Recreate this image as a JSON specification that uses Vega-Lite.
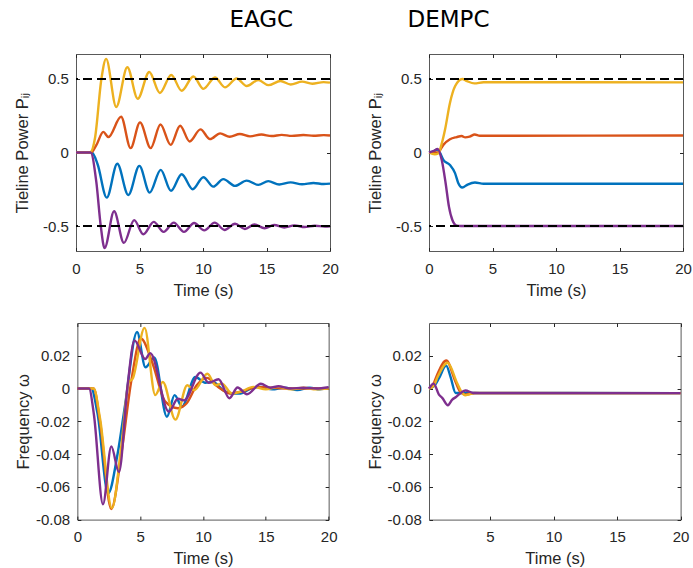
{
"$schema": "https://vega.github.io/schema/vega-lite/v6.json",
"padding": {"left": 13, "top": 8, "right": 5, "bottom": 5},
"config": {
 "font": "Liberation Sans",
 "view": {"stroke": "#595959", "strokeWidth": 1},
 "line": {"strokeWidth": 2.4, "interpolate": "monotone"},
 "axis": {"domain": false, "grid": false, "tickSize": -3.5, "tickColor": "#262626", "tickWidth": 1, "labelFont": "Liberation Sans", "labelFontSize": 15, "labelColor": "#262626", "labelFlush": false, "labelOverlap": false, "titleFont": "Liberation Sans, DejaVu Sans", "titleFontSize": 16.5, "titleFontWeight": "normal", "titleColor": "#262626"},
 "axisX": {"labelPadding": 25.8, "labelBaseline": "alphabetic", "titleY": 44, "titleBaseline": "alphabetic"},
 "axisY": {"labelPadding": 11.2, "titleBaseline": "alphabetic"},
 "axisTop": {"labelPadding": 0},
 "axisRight": {"labelPadding": 0}
},
"datasets": {
 "lv": [{"v": 0.5}, {"v": -0.5}],
 "d": [
{"p":"TL","s":"B","t":0,"v":0},{"p":"TL","s":"B","t":1.25,"v":0},{"p":"TL","s":"B","t":1.7,"v":-0.08},{"p":"TL","s":"B","t":2.42,"v":-0.307},{"p":"TL","s":"B","t":3.25,"v":-0.077},{"p":"TL","s":"B","t":4.12,"v":-0.289},{"p":"TL","s":"B","t":4.99,"v":-0.091},{"p":"TL","s":"B","t":5.8,"v":-0.273},{"p":"TL","s":"B","t":6.67,"v":-0.118},{"p":"TL","s":"B","t":7.48,"v":-0.261},{"p":"TL","s":"B","t":8.32,"v":-0.148},{"p":"TL","s":"B","t":9.19,"v":-0.25},{"p":"TL","s":"B","t":10.03,"v":-0.168},{"p":"TL","s":"B","t":10.81,"v":-0.232},{"p":"TL","s":"B","t":11.6,"v":-0.181},{"p":"TL","s":"B","t":12.52,"v":-0.227},{"p":"TL","s":"B","t":13.44,"v":-0.191},{"p":"TL","s":"B","t":14.36,"v":-0.22},{"p":"TL","s":"B","t":15.14,"v":-0.195},{"p":"TL","s":"B","t":16.0,"v":-0.218},{"p":"TL","s":"B","t":16.9,"v":-0.203},{"p":"TL","s":"B","t":17.8,"v":-0.216},{"p":"TL","s":"B","t":18.7,"v":-0.207},{"p":"TL","s":"B","t":19.5,"v":-0.214},{"p":"TL","s":"B","t":20,"v":-0.212},
{"p":"TL","s":"O","t":0,"v":0},{"p":"TL","s":"O","t":1.2,"v":0},{"p":"TL","s":"O","t":1.6,"v":0.05},{"p":"TL","s":"O","t":2.15,"v":0.14},{"p":"TL","s":"O","t":2.55,"v":0.105},{"p":"TL","s":"O","t":3.55,"v":0.243},{"p":"TL","s":"O","t":4.3,"v":0.03},{"p":"TL","s":"O","t":5.04,"v":0.205},{"p":"TL","s":"O","t":5.88,"v":0.03},{"p":"TL","s":"O","t":6.65,"v":0.19},{"p":"TL","s":"O","t":7.45,"v":0.052},{"p":"TL","s":"O","t":8.2,"v":0.182},{"p":"TL","s":"O","t":8.95,"v":0.075},{"p":"TL","s":"O","t":9.8,"v":0.157},{"p":"TL","s":"O","t":10.55,"v":0.091},{"p":"TL","s":"O","t":11.35,"v":0.13},{"p":"TL","s":"O","t":12.1,"v":0.107},{"p":"TL","s":"O","t":12.9,"v":0.126},{"p":"TL","s":"O","t":13.7,"v":0.11},{"p":"TL","s":"O","t":14.6,"v":0.122},{"p":"TL","s":"O","t":15.4,"v":0.112},{"p":"TL","s":"O","t":16.2,"v":0.12},{"p":"TL","s":"O","t":17.0,"v":0.113},{"p":"TL","s":"O","t":17.9,"v":0.119},{"p":"TL","s":"O","t":18.7,"v":0.114},{"p":"TL","s":"O","t":19.5,"v":0.118},{"p":"TL","s":"O","t":20,"v":0.116},
{"p":"TL","s":"Y","t":0,"v":0},{"p":"TL","s":"Y","t":1.1,"v":0},{"p":"TL","s":"Y","t":1.5,"v":0.1},{"p":"TL","s":"Y","t":2.0,"v":0.5},{"p":"TL","s":"Y","t":2.37,"v":0.637},{"p":"TL","s":"Y","t":3.17,"v":0.31},{"p":"TL","s":"Y","t":4.04,"v":0.58},{"p":"TL","s":"Y","t":4.86,"v":0.366},{"p":"TL","s":"Y","t":5.77,"v":0.548},{"p":"TL","s":"Y","t":6.6,"v":0.405},{"p":"TL","s":"Y","t":7.5,"v":0.527},{"p":"TL","s":"Y","t":8.32,"v":0.42},{"p":"TL","s":"Y","t":9.24,"v":0.517},{"p":"TL","s":"Y","t":10.03,"v":0.433},{"p":"TL","s":"Y","t":10.94,"v":0.51},{"p":"TL","s":"Y","t":11.73,"v":0.443},{"p":"TL","s":"Y","t":12.65,"v":0.503},{"p":"TL","s":"Y","t":13.44,"v":0.452},{"p":"TL","s":"Y","t":14.35,"v":0.493},{"p":"TL","s":"Y","t":15.15,"v":0.458},{"p":"TL","s":"Y","t":16.1,"v":0.486},{"p":"TL","s":"Y","t":16.9,"v":0.463},{"p":"TL","s":"Y","t":17.8,"v":0.482},{"p":"TL","s":"Y","t":18.6,"v":0.468},{"p":"TL","s":"Y","t":19.5,"v":0.479},{"p":"TL","s":"Y","t":20,"v":0.475},
{"p":"TL","s":"P","t":0,"v":0},{"p":"TL","s":"P","t":1.15,"v":0},{"p":"TL","s":"P","t":1.6,"v":-0.2},{"p":"TL","s":"P","t":1.95,"v":-0.5},{"p":"TL","s":"P","t":2.25,"v":-0.65},{"p":"TL","s":"P","t":3.0,"v":-0.4},{"p":"TL","s":"P","t":3.77,"v":-0.615},{"p":"TL","s":"P","t":4.58,"v":-0.46},{"p":"TL","s":"P","t":5.3,"v":-0.556},{"p":"TL","s":"P","t":6.12,"v":-0.472},{"p":"TL","s":"P","t":6.9,"v":-0.54},{"p":"TL","s":"P","t":7.7,"v":-0.477},{"p":"TL","s":"P","t":8.5,"v":-0.54},{"p":"TL","s":"P","t":9.3,"v":-0.48},{"p":"TL","s":"P","t":10.1,"v":-0.53},{"p":"TL","s":"P","t":10.92,"v":-0.477},{"p":"TL","s":"P","t":11.7,"v":-0.527},{"p":"TL","s":"P","t":12.52,"v":-0.485},{"p":"TL","s":"P","t":13.3,"v":-0.52},{"p":"TL","s":"P","t":14.05,"v":-0.49},{"p":"TL","s":"P","t":14.85,"v":-0.515},{"p":"TL","s":"P","t":15.6,"v":-0.493},{"p":"TL","s":"P","t":16.4,"v":-0.51},{"p":"TL","s":"P","t":17.2,"v":-0.496},{"p":"TL","s":"P","t":18.0,"v":-0.507},{"p":"TL","s":"P","t":18.8,"v":-0.498},{"p":"TL","s":"P","t":19.6,"v":-0.504},{"p":"TL","s":"P","t":20,"v":-0.502},
{"p":"TR","s":"B","t":0,"v":0},{"p":"TR","s":"B","t":0.4,"v":0.01},{"p":"TR","s":"B","t":0.65,"v":0.02},{"p":"TR","s":"B","t":0.85,"v":0.0},{"p":"TR","s":"B","t":1.13,"v":-0.05},{"p":"TR","s":"B","t":1.65,"v":-0.085},{"p":"TR","s":"B","t":2.05,"v":-0.14},{"p":"TR","s":"B","t":2.31,"v":-0.209},{"p":"TR","s":"B","t":2.62,"v":-0.238},{"p":"TR","s":"B","t":3.04,"v":-0.218},{"p":"TR","s":"B","t":3.62,"v":-0.204},{"p":"TR","s":"B","t":4.3,"v":-0.213},{"p":"TR","s":"B","t":20,"v":-0.213},
{"p":"TR","s":"O","t":0,"v":0},{"p":"TR","s":"O","t":0.7,"v":0.0},{"p":"TR","s":"O","t":1.13,"v":0.052},{"p":"TR","s":"O","t":1.65,"v":0.09},{"p":"TR","s":"O","t":2.18,"v":0.105},{"p":"TR","s":"O","t":2.57,"v":0.112},{"p":"TR","s":"O","t":2.85,"v":0.103},{"p":"TR","s":"O","t":3.2,"v":0.108},{"p":"TR","s":"O","t":3.6,"v":0.122},{"p":"TR","s":"O","t":4.0,"v":0.114},{"p":"TR","s":"O","t":20,"v":0.116},
{"p":"TR","s":"Y","t":0,"v":0},{"p":"TR","s":"Y","t":0.45,"v":-0.012},{"p":"TR","s":"Y","t":0.75,"v":-0.005},{"p":"TR","s":"Y","t":1.0,"v":0.06},{"p":"TR","s":"Y","t":1.26,"v":0.155},{"p":"TR","s":"Y","t":1.65,"v":0.337},{"p":"TR","s":"Y","t":2.05,"v":0.45},{"p":"TR","s":"Y","t":2.62,"v":0.5},{"p":"TR","s":"Y","t":3.0,"v":0.485},{"p":"TR","s":"Y","t":3.57,"v":0.47},{"p":"TR","s":"Y","t":4.3,"v":0.478},{"p":"TR","s":"Y","t":20,"v":0.477},
{"p":"TR","s":"P","t":0,"v":0},{"p":"TR","s":"P","t":0.4,"v":0.012},{"p":"TR","s":"P","t":0.68,"v":0.025},{"p":"TR","s":"P","t":1.0,"v":-0.05},{"p":"TR","s":"P","t":1.31,"v":-0.209},{"p":"TR","s":"P","t":1.57,"v":-0.368},{"p":"TR","s":"P","t":1.84,"v":-0.459},{"p":"TR","s":"P","t":2.18,"v":-0.497},{"p":"TR","s":"P","t":2.5,"v":-0.5},{"p":"TR","s":"P","t":20,"v":-0.5},
{"p":"BL","s":"B","t":0,"v":0},{"p":"BL","s":"B","t":1.1,"v":0},{"p":"BL","s":"B","t":1.6,"v":-0.015},{"p":"BL","s":"B","t":2.45,"v":-0.064},{"p":"BL","s":"B","t":3.2,"v":-0.04},{"p":"BL","s":"B","t":3.8,"v":-0.01},{"p":"BL","s":"B","t":4.75,"v":0.0345},{"p":"BL","s":"B","t":5.42,"v":0.013},{"p":"BL","s":"B","t":6.12,"v":0.019},{"p":"BL","s":"B","t":7.13,"v":-0.0172},{"p":"BL","s":"B","t":7.74,"v":-0.004},{"p":"BL","s":"B","t":8.32,"v":-0.011},{"p":"BL","s":"B","t":9.4,"v":0.007},{"p":"BL","s":"B","t":10.18,"v":0.0035},{"p":"BL","s":"B","t":10.8,"v":0.004},{"p":"BL","s":"B","t":11.6,"v":-0.001},{"p":"BL","s":"B","t":12.3,"v":-0.003},{"p":"BL","s":"B","t":13.0,"v":-0.003},{"p":"BL","s":"B","t":13.8,"v":0.0},{"p":"BL","s":"B","t":14.6,"v":0.001},{"p":"BL","s":"B","t":15.5,"v":-0.0005},{"p":"BL","s":"B","t":16.5,"v":0.0005},{"p":"BL","s":"B","t":17.5,"v":-0.001},{"p":"BL","s":"B","t":18.5,"v":0.0005},{"p":"BL","s":"B","t":19.3,"v":-0.0005},{"p":"BL","s":"B","t":20,"v":0.0005},
{"p":"BL","s":"O","t":0,"v":0},{"p":"BL","s":"O","t":1.3,"v":0},{"p":"BL","s":"O","t":1.8,"v":-0.02},{"p":"BL","s":"O","t":2.7,"v":-0.0735},{"p":"BL","s":"O","t":3.5,"v":-0.04},{"p":"BL","s":"O","t":4.3,"v":0.005},{"p":"BL","s":"O","t":5.05,"v":0.0305},{"p":"BL","s":"O","t":6.0,"v":0.015},{"p":"BL","s":"O","t":7.0,"v":-0.008},{"p":"BL","s":"O","t":8.0,"v":-0.012},{"p":"BL","s":"O","t":8.7,"v":-0.009},{"p":"BL","s":"O","t":9.5,"v":0.002},{"p":"BL","s":"O","t":10.3,"v":0.0065},{"p":"BL","s":"O","t":11.2,"v":0.001},{"p":"BL","s":"O","t":12.2,"v":-0.003},{"p":"BL","s":"O","t":13.2,"v":-0.0015},{"p":"BL","s":"O","t":14.3,"v":0.001},{"p":"BL","s":"O","t":15.5,"v":0.0005},{"p":"BL","s":"O","t":17,"v":0},{"p":"BL","s":"O","t":20,"v":0},
{"p":"BL","s":"Y","t":0,"v":0},{"p":"BL","s":"Y","t":1.3,"v":0},{"p":"BL","s":"Y","t":1.8,"v":-0.018},{"p":"BL","s":"Y","t":2.75,"v":-0.073},{"p":"BL","s":"Y","t":3.5,"v":-0.035},{"p":"BL","s":"Y","t":4.1,"v":0.004},{"p":"BL","s":"Y","t":4.4,"v":0.006},{"p":"BL","s":"Y","t":5.35,"v":0.037},{"p":"BL","s":"Y","t":6.2,"v":-0.004},{"p":"BL","s":"Y","t":6.8,"v":0.004},{"p":"BL","s":"Y","t":7.8,"v":-0.019},{"p":"BL","s":"Y","t":8.75,"v":0.002},{"p":"BL","s":"Y","t":9.3,"v":-0.001},{"p":"BL","s":"Y","t":10.35,"v":0.009},{"p":"BL","s":"Y","t":11.0,"v":0.002},{"p":"BL","s":"Y","t":11.5,"v":0.003},{"p":"BL","s":"Y","t":12.3,"v":-0.003},{"p":"BL","s":"Y","t":13.0,"v":-0.002},{"p":"BL","s":"Y","t":14.0,"v":0.001},{"p":"BL","s":"Y","t":15.0,"v":-0.0005},{"p":"BL","s":"Y","t":16.0,"v":0.001},{"p":"BL","s":"Y","t":17.0,"v":-0.0005},{"p":"BL","s":"Y","t":18.0,"v":0.0005},{"p":"BL","s":"Y","t":19.0,"v":-0.0005},{"p":"BL","s":"Y","t":20,"v":0},
{"p":"BL","s":"P","t":0,"v":0},{"p":"BL","s":"P","t":0.93,"v":0},{"p":"BL","s":"P","t":1.32,"v":-0.016},{"p":"BL","s":"P","t":2.04,"v":-0.0706},{"p":"BL","s":"P","t":2.7,"v":-0.0353},{"p":"BL","s":"P","t":3.31,"v":-0.051},{"p":"BL","s":"P","t":4.0,"v":0.002},{"p":"BL","s":"P","t":4.55,"v":0.0294},{"p":"BL","s":"P","t":5.4,"v":0.018},{"p":"BL","s":"P","t":5.8,"v":0.0216},{"p":"BL","s":"P","t":7.28,"v":-0.0141},{"p":"BL","s":"P","t":8.0,"v":-0.0062},{"p":"BL","s":"P","t":8.5,"v":-0.0072},{"p":"BL","s":"P","t":9.8,"v":0.0097},{"p":"BL","s":"P","t":10.45,"v":0.0035},{"p":"BL","s":"P","t":11.24,"v":0.0057},{"p":"BL","s":"P","t":12.1,"v":-0.0059},{"p":"BL","s":"P","t":12.75,"v":0.0006},{"p":"BL","s":"P","t":13.5,"v":-0.0035},{"p":"BL","s":"P","t":14.6,"v":0.0029},{"p":"BL","s":"P","t":15.35,"v":0.0005},{"p":"BL","s":"P","t":16.0,"v":0.0014},{"p":"BL","s":"P","t":16.94,"v":0},{"p":"BL","s":"P","t":18,"v":0.0005},{"p":"BL","s":"P","t":19,"v":0},{"p":"BL","s":"P","t":20,"v":0.0008},
{"p":"BR","s":"B","t":0.2,"v":0},{"p":"BR","s":"B","t":0.6,"v":0.0015},{"p":"BR","s":"B","t":1.0,"v":0.0065},{"p":"BR","s":"B","t":1.55,"v":0.014},{"p":"BR","s":"B","t":1.9,"v":0.007},{"p":"BR","s":"B","t":2.3,"v":-0.0027},{"p":"BR","s":"B","t":20,"v":-0.0028},
{"p":"BR","s":"O","t":0.2,"v":0},{"p":"BR","s":"O","t":0.5,"v":0.002},{"p":"BR","s":"O","t":0.85,"v":0.0086},{"p":"BR","s":"O","t":1.56,"v":0.0171},{"p":"BR","s":"O","t":2.27,"v":0.0045},{"p":"BR","s":"O","t":2.66,"v":-0.002},{"p":"BR","s":"O","t":3.06,"v":-0.0037},{"p":"BR","s":"O","t":3.8,"v":-0.0027},{"p":"BR","s":"O","t":20,"v":-0.0028},
{"p":"BR","s":"Y","t":0.2,"v":0},{"p":"BR","s":"Y","t":0.55,"v":0.0015},{"p":"BR","s":"Y","t":0.9,"v":0.0075},{"p":"BR","s":"Y","t":1.66,"v":0.0157},{"p":"BR","s":"Y","t":2.4,"v":0.0035},{"p":"BR","s":"Y","t":2.75,"v":-0.002},{"p":"BR","s":"Y","t":3.06,"v":-0.0041},{"p":"BR","s":"Y","t":3.8,"v":-0.0028},{"p":"BR","s":"Y","t":20,"v":-0.0028},
{"p":"BR","s":"P","t":0.2,"v":0},{"p":"BR","s":"P","t":0.57,"v":0.003},{"p":"BR","s":"P","t":0.98,"v":-0.0037},{"p":"BR","s":"P","t":1.24,"v":-0.0057},{"p":"BR","s":"P","t":1.69,"v":-0.0102},{"p":"BR","s":"P","t":2.03,"v":-0.0067},{"p":"BR","s":"P","t":2.3,"v":-0.0053},{"p":"BR","s":"P","t":2.6,"v":-0.0033},{"p":"BR","s":"P","t":3.06,"v":-0.0012},{"p":"BR","s":"P","t":3.7,"v":-0.0027},{"p":"BR","s":"P","t":4.2,"v":-0.0028},{"p":"BR","s":"P","t":20,"v":-0.0028}
 ]
},
"concat": [
   {
    "width": 254, "height": 197,
    "title": {"text": "EAGC", "dx": 58.3, "offset": 3.4, "baseline": "alphabetic", "frame": "group", "anchor": "middle", "font": "DejaVu Sans", "fontSize": 23, "fontWeight": "normal", "color": "black"},
    "layer": [
     {"data": {"name": "d"}, "transform": [{"filter": "datum.p == 'TL'"}],
      "mark": {"type": "line"},
      "encoding": {
       "x": {"field": "t", "type": "quantitative", "scale": {"domain": [0, 20]}, "axis": {"values": [0, 5, 10, 15, 20], "title": "Time (s)"}},
       "y": {"field": "v", "type": "quantitative", "scale": {"domain": [-0.67, 0.67]}, "axis": {"values": [-0.5, 0, 0.5], "labelExpr": "toString(datum.value)", "title": "Tieline Power Pᵢⱼ", "titleX": -48.7}},
       "color": {"field": "s", "type": "nominal", "scale": {"domain": ["B", "O", "Y", "P"], "range": ["#0072BD", "#D95319", "#EDB120", "#7E2F8E"]}, "legend": null}
      }},
     {"data": {"name": "d"}, "transform": [{"filter": "datum.p == 'TL'"}],
      "mark": {"type": "point", "opacity": 0},
      "encoding": {
       "x": {"field": "t", "type": "quantitative", "scale": {"domain": [0, 20]}, "axis": {"orient": "top", "values": [0, 5, 10, 15, 20], "labels": false, "labelPadding": 0, "title": null}},
       "y": {"field": "v", "type": "quantitative", "scale": {"domain": [-0.67, 0.67]}, "axis": {"orient": "right", "values": [-0.5, 0, 0.5], "labels": false, "labelPadding": 0, "title": null}}
      }},
     {"data": {"name": "lv"},
      "mark": {"type": "rule", "strokeDash": [9, 5], "strokeWidth": 2.2, "color": "black"},
      "encoding": {"y": {"field": "v", "type": "quantitative", "scale": {"domain": [-0.67, 0.67]}, "axis": null}}}
    ],
    "resolve": {"axis": {"x": "independent", "y": "independent"}}
   },
   {
    "width": 254, "height": 197,
    "title": {"text": "DEMPC", "dx": -107.5, "offset": 3.4, "baseline": "alphabetic", "frame": "group", "anchor": "middle", "font": "DejaVu Sans", "fontSize": 23, "fontWeight": "normal", "color": "black"},
    "layer": [
     {"data": {"name": "d"}, "transform": [{"filter": "datum.p == 'TR'"}],
      "mark": {"type": "line"},
      "encoding": {
       "x": {"field": "t", "type": "quantitative", "scale": {"domain": [0, 20]}, "axis": {"values": [0, 5, 10, 15, 20], "title": "Time (s)"}},
       "y": {"field": "v", "type": "quantitative", "scale": {"domain": [-0.67, 0.67]}, "axis": {"values": [-0.5, 0, 0.5], "labelExpr": "toString(datum.value)", "title": "Tieline Power Pᵢⱼ", "titleX": -48.7}},
       "color": {"field": "s", "type": "nominal", "scale": {"domain": ["B", "O", "Y", "P"], "range": ["#0072BD", "#D95319", "#EDB120", "#7E2F8E"]}, "legend": null}
      }},
     {"data": {"name": "d"}, "transform": [{"filter": "datum.p == 'TR'"}],
      "mark": {"type": "point", "opacity": 0},
      "encoding": {
       "x": {"field": "t", "type": "quantitative", "scale": {"domain": [0, 20]}, "axis": {"orient": "top", "values": [0, 5, 10, 15, 20], "labels": false, "labelPadding": 0, "title": null}},
       "y": {"field": "v", "type": "quantitative", "scale": {"domain": [-0.67, 0.67]}, "axis": {"orient": "right", "values": [-0.5, 0, 0.5], "labels": false, "labelPadding": 0, "title": null}}
      }},
     {"data": {"name": "lv"},
      "mark": {"type": "rule", "strokeDash": [9, 5], "strokeWidth": 2.2, "color": "black"},
      "encoding": {"y": {"field": "v", "type": "quantitative", "scale": {"domain": [-0.67, 0.67]}, "axis": null}}}
    ],
    "resolve": {"axis": {"x": "independent", "y": "independent"}}
   },
   {
    "width": 251.3, "height": 196.6,
    "layer": [
     {"data": {"name": "d"}, "transform": [{"filter": "datum.p == 'BL'"}],
      "mark": {"type": "line"},
      "encoding": {
       "x": {"field": "t", "type": "quantitative", "scale": {"domain": [0, 20]}, "axis": {"values": [0, 5, 10, 15, 20], "title": "Time (s)"}},
       "y": {"field": "v", "type": "quantitative", "scale": {"domain": [-0.08, 0.04]}, "axis": {"values": [-0.08, -0.06, -0.04, -0.02, 0, 0.02], "labelExpr": "toString(datum.value)", "title": "Frequency ω", "titleX": -49}},
       "color": {"field": "s", "type": "nominal", "scale": {"domain": ["B", "O", "Y", "P"], "range": ["#0072BD", "#D95319", "#EDB120", "#7E2F8E"]}, "legend": null}
      }},
     {"data": {"name": "d"}, "transform": [{"filter": "datum.p == 'BL'"}],
      "mark": {"type": "point", "opacity": 0},
      "encoding": {
       "x": {"field": "t", "type": "quantitative", "scale": {"domain": [0, 20]}, "axis": {"orient": "top", "values": [0, 5, 10, 15, 20], "labels": false, "labelPadding": 0, "title": null}},
       "y": {"field": "v", "type": "quantitative", "scale": {"domain": [-0.08, 0.04]}, "axis": {"orient": "right", "values": [-0.08, -0.06, -0.04, -0.02, 0, 0.02], "labels": false, "labelPadding": 0, "title": null}}
      }}
    ],
    "resolve": {"axis": {"x": "independent", "y": "independent"}}
   },
   {
    "width": 251.6, "height": 196.6,
    "layer": [
     {"data": {"name": "d"}, "transform": [{"filter": "datum.p == 'BR'"}],
      "mark": {"type": "line"},
      "encoding": {
       "x": {"field": "t", "type": "quantitative", "scale": {"domain": [0.2, 20]}, "axis": {"values": [5, 10, 15, 20], "title": "Time (s)"}},
       "y": {"field": "v", "type": "quantitative", "scale": {"domain": [-0.08, 0.04]}, "axis": {"values": [-0.08, -0.06, -0.04, -0.02, 0, 0.02], "labelExpr": "toString(datum.value)", "title": "Frequency ω", "titleX": -49}},
       "color": {"field": "s", "type": "nominal", "scale": {"domain": ["B", "O", "Y", "P"], "range": ["#0072BD", "#D95319", "#EDB120", "#7E2F8E"]}, "legend": null}
      }},
     {"data": {"name": "d"}, "transform": [{"filter": "datum.p == 'BR'"}],
      "mark": {"type": "point", "opacity": 0},
      "encoding": {
       "x": {"field": "t", "type": "quantitative", "scale": {"domain": [0.2, 20]}, "axis": {"orient": "top", "values": [5, 10, 15, 20], "labels": false, "labelPadding": 0, "title": null}},
       "y": {"field": "v", "type": "quantitative", "scale": {"domain": [-0.08, 0.04]}, "axis": {"orient": "right", "values": [-0.08, -0.06, -0.04, -0.02, 0, 0.02], "labels": false, "labelPadding": 0, "title": null}}
      }}
    ],
    "resolve": {"axis": {"x": "independent", "y": "independent"}}
   }
],
"columns": 2,
"spacing": {"row": 72, "column": 99}, "bounds": "flush", "center": true
}
